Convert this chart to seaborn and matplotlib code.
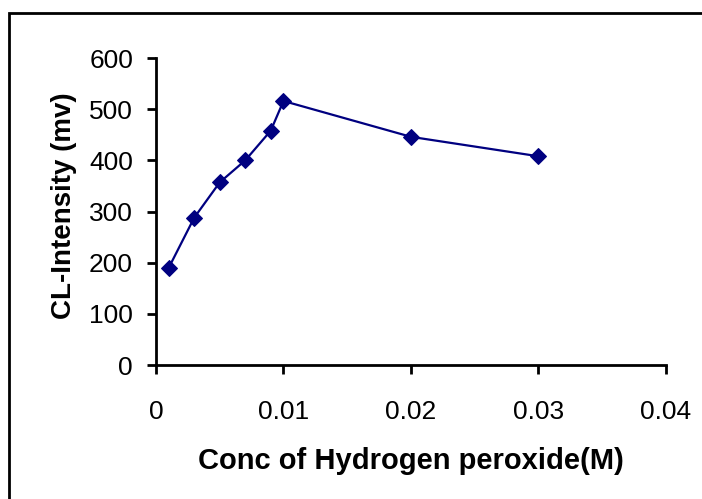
import matplotlib
matplotlib.use("Agg")
import matplotlib.pyplot as plt
import seaborn as sns
import pandas as pd
from matplotlib.patches import Rectangle

conc = [0.001, 0.003, 0.005, 0.007, 0.009, 0.010, 0.020, 0.030]
intensity = [190, 288, 357, 400, 458, 516, 446, 408]
x_ticks = [0, 0.01, 0.02, 0.03, 0.04]
x_tick_labels = ["0", "0.01", "0.02", "0.03", "0.04"]
y_ticks = [0, 100, 200, 300, 400, 500, 600]

sns.set_style("white")
plt.rcParams['font.family'] = ['Liberation Sans', 'DejaVu Sans']
plt.rcParams['text.color'] = 'black'
plt.rcParams['axes.labelcolor'] = 'black'

df = pd.DataFrame({"conc": conc, "intensity": intensity})

fig = plt.figure(figsize=(7.02, 4.99), dpi=100)
ax = fig.add_axes([0.2222, 0.2685, 0.7265, 0.6152])
sns.lineplot(data=df, x="conc", y="intensity", ax=ax, color="#000080",
             marker="D", markersize=8, markeredgecolor="#000080", linewidth=1.6)

ax.set_xlim(0, 0.04)
ax.set_ylim(0, 600)
ax.set_xticks(x_ticks)
ax.set_xticklabels(x_tick_labels)
ax.set_yticks(y_ticks)
for s in ["top", "right"]:
    ax.spines[s].set_visible(False)
for s in ["left", "bottom"]:
    ax.spines[s].set_color("black")
    ax.spines[s].set_linewidth(2)
ax.tick_params(axis="both", direction="out", length=6.5, width=2, color="black",
               labelsize=19, labelcolor="black", bottom=True, left=True)
ax.tick_params(axis="x", pad=19)
ax.tick_params(axis="y", pad=10)
ax.set_xlabel("Conc of Hydrogen peroxide(M)", fontsize=21, fontweight="bold", labelpad=16, color="black")
ax.set_ylabel("CL-Intensity (mv)", fontsize=20, fontweight="bold", labelpad=8.5, color="black")
ax.yaxis.label.set_y(0.52)

fig.patches.append(Rectangle((9/702, -0.1), 1.2, 1 - 13/499 + 0.1, transform=fig.transFigure,
                             fill=False, edgecolor="black", linewidth=2))

fig.savefig("out.png", dpi=100)
